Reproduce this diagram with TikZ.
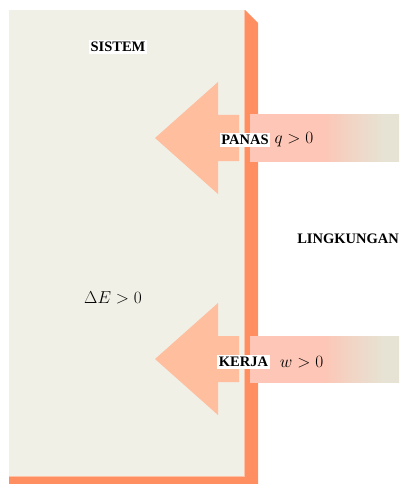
\documentclass[tikz,border=0pt]{standalone}
\usepackage{fontspec}
\setmainfont{Liberation Serif}
\usepackage{tikz}
\usetikzlibrary{positioning}
\definecolor{Panel}{HTML}{F1F0E6}
\definecolor{Rim}{HTML}{FF8F60}
\definecolor{RimLight}{HTML}{FFC2A6}
\definecolor{Head}{HTML}{FFBE9E}
\definecolor{ShaftPink}{HTML}{FDC6B6}
\definecolor{ShaftGrey}{HTML}{E6E3D4}
\pgfdeclarehorizontalshading{shaftfade}{100bp}{color(0bp)=(ShaftPink);
  color(25bp)=(ShaftPink); color(50bp)=(ShaftPink); color(58bp)=(ShaftPink!55!ShaftGrey);
  color(70bp)=(ShaftGrey); color(100bp)=(ShaftGrey)}

\begin{document}
\begin{tikzpicture}[x=1pt,y=-1pt,
      tag/.style={fill=white,inner xsep=1.5pt,inner ysep=2pt,
                  font=\fontsize{14.5}{14.5}\selectfont\bfseries},
      plain/.style={inner sep=0pt,font=\fontsize{14.5}{14.5}\selectfont\bfseries},
      sym/.style={inner sep=0pt,font=\fontsize{16}{16}\selectfont}]
    \useasboundingbox (0,0) rectangle (399,484);
    % system panel and its rim
    \fill[Panel] (9,10) rectangle (245,477);
    \fill[Rim] (245,10) -- (258,23) -- (258,484) -- (9,484) -- (9,477)
      -- (245,477) -- cycle;
    \draw[RimLight,line width=0.8pt] (9,476.6) -- (244.6,476.6) -- (244.6,10);

    % heat and work entering the system
    \foreach \n/\y in {heat/138,work/359}{%
      \fill[Head] (155,\y) -- (218,{\y-56}) -- (218,{\y-23}) -- (239,{\y-23})
        -- (239,{\y+23}) -- (218,{\y+23}) -- (218,{\y+56}) -- cycle;
      \shade[shading=shaftfade] (250,{\y-23}) rectangle (399,{\y+23});
    }

    \node[tag] (sistem) at (118,47) {SISTEM};
    \node[tag] (panas) at (245,140) {PANAS};
    \node[sym,right=4pt of panas] (q) {$q>0$};
    \node[tag] (kerja) at (243.5,362) {KERJA};
    \node[sym,right=10pt of kerja] (w) {$w>0$};
    \node[plain,anchor=east] (lingkungan) at (399,239) {LINGKUNGAN};
    \node[sym] (dE) at (113,298) {$\Delta E>0$};
  \end{tikzpicture}
\end{document}
